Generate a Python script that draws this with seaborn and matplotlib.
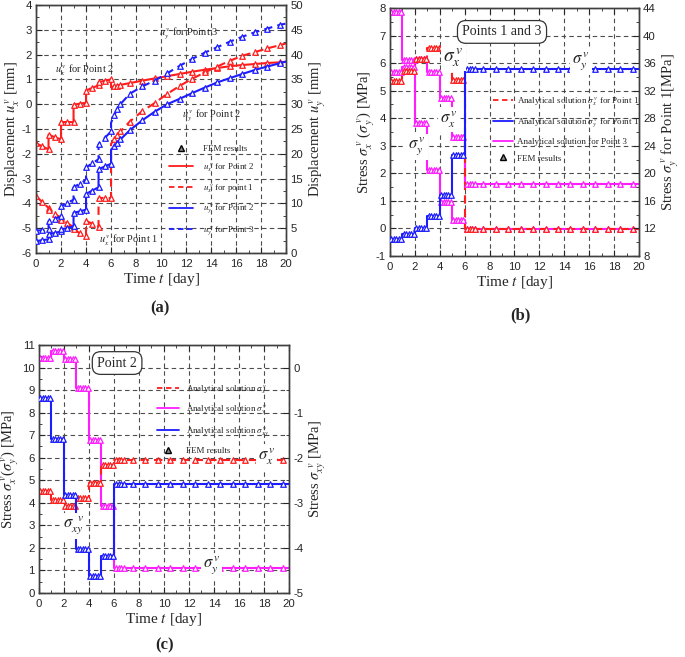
import matplotlib
matplotlib.use('Agg')
import matplotlib.pyplot as plt
import seaborn as sns
import numpy as np
from matplotlib.lines import Line2D
from matplotlib.ticker import MultipleLocator

# ---------------- panel (a): displacements ----------------
# readings at start / middle / end of each loading day (0-6)
a_early_t = [0, 0.5, 1, 1, 1.5, 2, 2, 2.5, 3, 3, 3.5, 4, 4, 4.5, 5, 5, 5.5, 6]
ux_p2_early = [-1.57, -1.7, -1.82, -1.23, -1.33, -1.42, -0.72, -0.72, -0.72,
               -0.02, 0.02, 0.06, 0.55, 0.66, 0.76, 0.88, 0.95, 1.0]
ux_p1_early = [-3.7, -3.95, -4.18, -4.25, -4.42, -4.58, -4.65, -4.8, -4.95,
               -5.05, -5.2, -5.32, -4.7, -4.82, -4.95, -3.78, -3.78, -3.78]
uy_p2_early = [2.4, 2.6, 2.75, 3.75, 4.05, 4.35, 4.75, 5.05, 5.35,
               8.1, 8.4, 8.75, 11.9, 12.6, 13.25, 16.9, 17.45, 18.0]
uy_p3_early = [4.5, 4.6, 4.75, 6.4, 6.9, 7.4, 9.4, 10.1, 10.75,
               13.25, 14.0, 14.75, 17.25, 18.1, 18.9, 21.9, 23.2, 24.5]
# readings after loading (t >= 6)
a_late_t = [6, 6.25, 6.5, 6.75, 7.5, 8.5, 9.5, 10.5, 11.5, 12.5, 13.5,
            14.5, 15.5, 16.5, 17.5, 18.5, 19.5, 20]
ux_p2_late = [0.68, 0.72, 0.75, 0.78, 0.85, 0.95, 1.04, 1.13, 1.22, 1.31, 1.39,
              1.46, 1.53, 1.58, 1.62, 1.66, 1.69, 1.71]
ux_p1_late = [-1.6, -1.42, -1.25, -1.1, -0.7, -0.28, 0.05, 0.42, 0.74, 1.03, 1.28,
              1.52, 1.75, 1.95, 2.1, 2.25, 2.38, 2.45]
uy_p2_late = [20.8, 21.5, 22.25, 22.9, 24.75, 26.75, 28.5, 30.0, 31.1, 32.25, 33.35,
              34.4, 35.25, 36.1, 36.9, 37.6, 38.25, 38.6]
uy_p3_late = [26.25, 27.75, 29.0, 30.0, 32.1, 33.6, 34.75, 36.25, 37.75, 39.15, 40.4,
              41.5, 42.6, 43.6, 44.5, 45.25, 46.0, 46.25]

# ---------------- panel (b): stresses, points 1 and 3 ----------------
day_starts = [0, 1, 2, 3, 4, 5]
fem_offsets = [0.1, 0.3, 0.5, 0.7, 0.9]
fem_late_t = [6.2, 6.4, 6.6, 6.8, 7.5, 8.5, 9.5, 10.5, 11.5, 12.5, 13.5,
              14.5, 15.5, 16.5, 17.5, 18.5, 19.5]
b_sx_p1 = [5.35, 5.73, 6.15, 6.53, 6.58, 5.38]
b_sx_p1_after = -0.03
b_sy_p1 = [10.4, 11.2, 12.1, 13.8, 16.9, 22.7]      # right axis [MPa]
b_sy_p1_after = 35.1
b_sy_p3 = [7.87, 6.1, 3.84, 2.13, 0.97, 0.29]
b_sy_p3_after = -0.02
b_sx_p3 = [5.68, 5.85, 6.15, 5.68, 4.73, 3.33]
b_sx_p3_after = 1.62

# ---------------- panel (c): stresses, point 2 ----------------
c_sx = [4.52, 4.12, 3.88, 4.2, 4.9, 5.67]
c_sx_after = 5.92
c_sy = [10.44, 10.72, 10.36, 9.1, 6.8, 3.87]
c_sy_after = 1.12
c_sxy = [-0.67, -1.59, -2.82, -4.02, -4.63, -4.17]  # right axis [MPa]
c_sxy_after = -2.58

RED, BLUE, MAG = '#ff1c1c', '#1c1cff', '#ff1cff'
SERIF = 'Liberation Serif'

sns.set_style('ticks')
plt.rcParams['font.family'] = ['Liberation Sans', 'DejaVu Sans']
plt.rcParams['mathtext.fontset'] = 'stix'
plt.rcParams['axes.unicode_minus'] = False
plt.rcParams['xtick.direction'] = 'in'
plt.rcParams['ytick.direction'] = 'in'

LEGFONT = {'family': SERIF, 'size': 6.5}


def draw_line(ax, t, v, color, ls='-'):
    sns.lineplot(x=t, y=v, ax=ax, sort=False, estimator=None, color=color,
                 linewidth=1.5, linestyle=ls, zorder=3)


def draw_fem(ax, t, v, color):
    sns.scatterplot(x=t, y=v, ax=ax, marker='^', s=16, facecolor='white',
                    edgecolor=color, linewidth=0.9, zorder=4)


def step_series(levels, after):
    t = [0]
    v = [levels[0]]
    for d, lv in zip(day_starts, levels):
        t += [d, d + 1]
        v += [lv, lv]
    t += [6, 20]
    v += [after, after]
    return t, v


def step_fem(levels, after):
    t = [d + o for d in day_starts for o in fem_offsets]
    v = list(np.repeat(levels, len(fem_offsets)))
    return t + fem_late_t, v + [after] * len(fem_late_t)


def style_axes(ax, ax2, ylim, yticks, ylim2, yticks2, minor2):
    ax.set_xlim(0, 20)
    ax.set_ylim(*ylim)
    ax.set_yticks(yticks)
    ax.xaxis.set_major_locator(MultipleLocator(2))
    ax.xaxis.set_minor_locator(MultipleLocator(1))
    ax.yaxis.set_minor_locator(MultipleLocator((yticks[1] - yticks[0]) / 2))
    ax2.set_ylim(*ylim2)
    ax2.set_yticks(yticks2)
    ax2.yaxis.set_minor_locator(MultipleLocator(minor2))
    ax.grid(True, which='major', linestyle=(0, (4, 3)), color='0.3', linewidth=0.8)
    ax.tick_params(which='both', top=True, direction='in', labelsize=8.2, pad=3)
    ax.tick_params(axis='x', pad=4.5)
    ax.tick_params(which='major', length=4)
    ax.tick_params(which='minor', length=2.5)
    ax2.tick_params(which='both', direction='in', labelsize=8.2, pad=3)
    ax2.tick_params(which='major', length=4)
    ax2.tick_params(which='minor', length=2.5)
    for a in (ax, ax2):
        for sp in a.spines.values():
            sp.set_visible(True)
            sp.set_linewidth(1.0)
            sp.set_color('0.25')
    ax.set_xlabel(r'Time $t$ [day]', fontsize=11, labelpad=1, family=SERIF)


fig = plt.figure(figsize=(6.85, 6.57), dpi=100)

# ================= (a) =================
ax = fig.add_axes([0.0526, 0.6149, 0.365, 0.3775])
ax2 = ax.twinx()
draw_line(ax, a_early_t + a_late_t, ux_p2_early + ux_p2_late, RED)
draw_line(ax, a_early_t + a_late_t, ux_p1_early + ux_p1_late, RED, (0, (4, 2.5)))
draw_line(ax2, a_early_t + a_late_t, uy_p2_early + uy_p2_late, BLUE)
draw_line(ax2, a_early_t + a_late_t, uy_p3_early + uy_p3_late, BLUE, (0, (4, 2.5)))
draw_fem(ax, a_early_t + a_late_t[1:-1], ux_p2_early + ux_p2_late[1:-1], RED)
draw_fem(ax, a_early_t + a_late_t[1:-1], ux_p1_early + ux_p1_late[1:-1], RED)
draw_fem(ax2, a_early_t + a_late_t[1:-1], uy_p2_early + uy_p2_late[1:-1], BLUE)
draw_fem(ax2, a_early_t + a_late_t[1:-1], uy_p3_early + uy_p3_late[1:-1], BLUE)
style_axes(ax, ax2, (-6, 4), list(range(-6, 5)), (0, 50), list(range(0, 51, 5)), 2.5)
ax.set_ylabel(r'Displacement $u_x^{\,v}$ [mm]', fontsize=10.5, labelpad=0, family=SERIF)
ax2.set_ylabel(r'Displacement $u_y^{\,v}$ [mm]', fontsize=10.5, labelpad=3, family=SERIF)
for x, y, s in [(1.5, 1.4, r'$u_x^{\,v}$ for Point 2'), (9.8, 2.87, r'$u_y^{\,v}$ for Point 3'),
                (11.7, -0.44, r'$u_y^{\,v}$ for Point 2'), (5.0, -5.45, r'$u_x^{\,v}$ for Point 1')]:
    ax2.text(x, y, s, transform=ax.transData, fontsize=7.5, va='center', ha='left', zorder=6,
             family=SERIF)
h_a = [Line2D([], [], marker='^', color='k', markerfacecolor='0.55', linestyle='none', markersize=5),
       Line2D([], [], color=RED, lw=1.3), Line2D([], [], color=RED, lw=1.3, ls=(0, (3, 2))),
       Line2D([], [], color=BLUE, lw=1.3), Line2D([], [], color=BLUE, lw=1.3, ls=(0, (3, 2)))]
l_a = ['FEM results', r'$u_x^{\,v}$ for Point 2', r'$u_x^{\,v}$ for point 1',
       r'$u_y^{\,v}$ for Point 2', r'$u_y^{\,v}$ for Point 3']
leg = ax2.legend(h_a, l_a, loc='upper left', bbox_to_anchor=(0.5, 0.47), frameon=False,
                 prop=LEGFONT, handlelength=2.6, labelspacing=0.9, handletextpad=1.2)
leg.set_zorder(7)

# ================= (b) =================
bx = fig.add_axes([0.5693, 0.6104, 0.3635, 0.3775])
bx2 = bx.twinx()
for levels, after, col, ls, axis in [(b_sy_p3, b_sy_p3_after, MAG, '-', bx),
                                     (b_sx_p3, b_sx_p3_after, MAG, '-', bx),
                                     (b_sx_p1, b_sx_p1_after, RED, (0, (4, 2.5)), bx),
                                     (b_sy_p1, b_sy_p1_after, BLUE, '-', bx2)]:
    t, v = step_series(levels, after)
    draw_line(axis, t, v, col, ls)
    ft, fv = step_fem(levels, after)
    draw_fem(axis, ft, fv, col)
style_axes(bx, bx2, (-1, 8), list(range(-1, 9)), (8, 44), list(range(8, 45, 4)), 2)
bx.set_ylabel(r'Stress $\sigma_x^{\,v}$ ($\sigma_y^{\,v}$) [MPa]', fontsize=10.5, labelpad=-1,
              family=SERIF)
bx2.set_ylabel(r'Stress $\sigma_y^{\,v}$ for Point 1[MPa]', fontsize=10.5, labelpad=3, family=SERIF)
for x, y, s, fs in [(5.1, 6.2, r'$\sigma_x^{\,v}$', 14), (4.7, 3.95, r'$\sigma_x^{\,v}$', 12),
                    (2.2, 2.95, r'$\sigma_y^{\,v}$', 12), (15.35, 6.05, r'$\sigma_y^{\,v}$', 12)]:
    bx2.text(x, y, s, transform=bx.transData, fontsize=fs, ha='center', va='center', zorder=6,
             bbox=dict(facecolor='white', edgecolor='none', pad=1.5))
bx2.text(9.0, 7.13, 'Points 1 and 3', transform=bx.transData, fontsize=10, ha='center',
         va='center', zorder=6, family=SERIF,
         bbox=dict(boxstyle='round,pad=0.35,rounding_size=0.6', facecolor='white', edgecolor='0.2', lw=0.9))
h_b = [Line2D([], [], color=RED, lw=1.3, ls=(0, (3, 2))), Line2D([], [], color=BLUE, lw=1.3),
       Line2D([], [], color=MAG, lw=1.3),
       Line2D([], [], marker='^', color='k', markerfacecolor='0.55', linestyle='none', markersize=5)]
l_b = [r'Analytical solution $\sigma_x^{\,v}$ for Point 1', r'Analytical solution $\sigma_y^{\,v}$ for Point 1',
       'Analytical solution for Point 3', 'FEM results']
leg = bx2.legend(h_b, l_b, loc='upper left', bbox_to_anchor=(0.38, 0.68), frameon=False,
                 prop=LEGFONT, handlelength=2.2, labelspacing=0.9, handletextpad=0.5)
leg.set_zorder(7)

# ================= (c) =================
cx = fig.add_axes([0.0569, 0.0974, 0.365, 0.3775])
cx2 = cx.twinx()
for levels, after, col, ls, axis in [(c_sy, c_sy_after, MAG, '-', cx),
                                     (c_sx, c_sx_after, RED, (0, (4, 2.5)), cx),
                                     (c_sxy, c_sxy_after, BLUE, '-', cx2)]:
    t, v = step_series(levels, after)
    draw_line(axis, t, v, col, ls)
    ft, fv = step_fem(levels, after)
    draw_fem(axis, ft, fv, col)
style_axes(cx, cx2, (0, 11), list(range(0, 12)), (-5, 0.5), list(range(-5, 1)), 0.5)
cx.set_ylabel(r'Stress $\sigma_x^{\,v}$($\sigma_y^{\,v}$) [MPa]', fontsize=10.5, labelpad=1,
              family=SERIF)
cx2.set_ylabel(r'Stress $\sigma_{xy}^{\;\;v}$ [MPa]', fontsize=10.5, labelpad=3, family=SERIF)
for x, y, s in [(2.75, 2.95, r'$\sigma_{xy}^{\;\;v}$'), (18.2, 6.05, r'$\sigma_x^{\,v}$'),
                (13.8, 1.2, r'$\sigma_y^{\,v}$')]:
    cx2.text(x, y, s, transform=cx.transData, fontsize=12, ha='center', va='center', zorder=6,
             bbox=dict(facecolor='white', edgecolor='none', pad=1.5))
cx2.text(6.25, 10.2, 'Point 2', transform=cx.transData, fontsize=10, ha='center',
         va='center', zorder=6, family=SERIF,
         bbox=dict(boxstyle='round,pad=0.35,rounding_size=0.6', facecolor='white', edgecolor='0.2', lw=0.9))
h_c = [Line2D([], [], color=RED, lw=1.3, ls=(0, (3, 2))), Line2D([], [], color=MAG, lw=1.3),
       Line2D([], [], color=BLUE, lw=1.3),
       Line2D([], [], marker='^', color='k', markerfacecolor='0.55', linestyle='none', markersize=5)]
l_c = [r'Analytical solution $\sigma_x^{\,v}$', r'Analytical solution $\sigma_y^{\,v}$',
       r'Analytical solution $\sigma_{xy}^{\,v}$', 'FEM results']
leg = cx2.legend(h_c, l_c, loc='upper left', bbox_to_anchor=(0.44, 0.88), frameon=False,
                 prop=LEGFONT, handlelength=2.4, labelspacing=0.9, handletextpad=0.8)
leg.set_zorder(7)

# panel letters
for x, y, s in [(160, 308, '(a)'), (520, 315, '(b)'), (165, 645, '(c)')]:
    fig.text(x / 685, 1 - y / 657, s, fontsize=12, fontweight='bold', ha='center',
             va='center', family=SERIF)

fig.savefig('out.png', dpi=100)
